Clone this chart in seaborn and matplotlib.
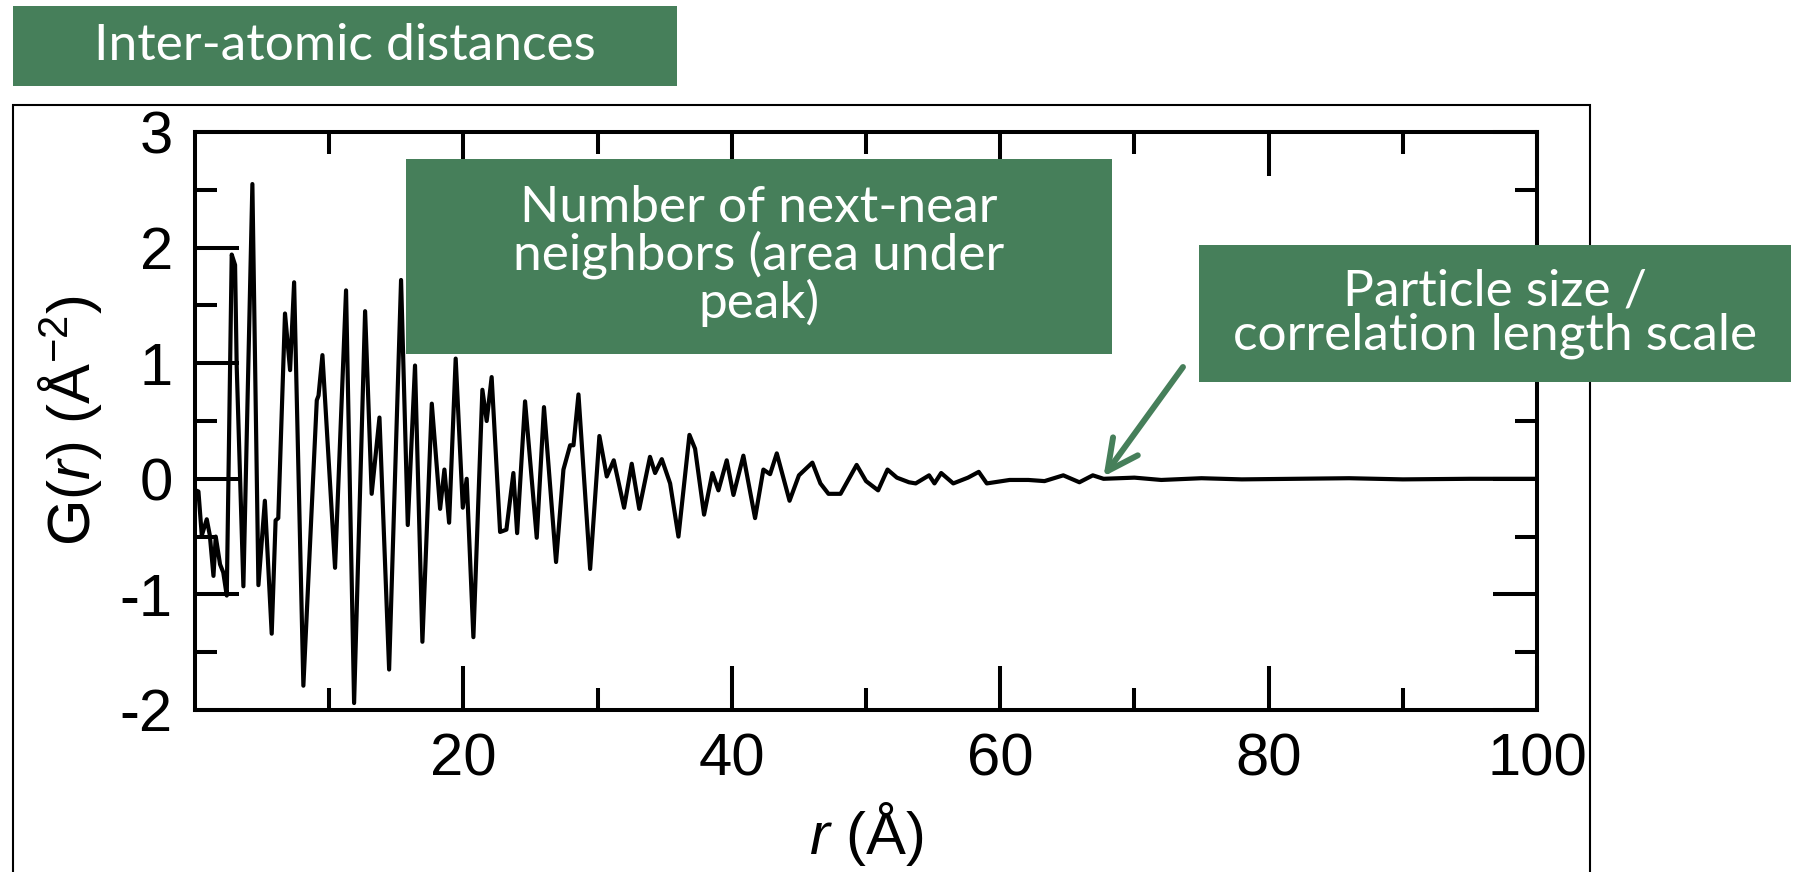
import numpy as np
import pandas as pd
import matplotlib
matplotlib.use("Agg")
import matplotlib.pyplot as plt
import matplotlib.patches as patches
from matplotlib.ticker import MultipleLocator, FixedLocator
import seaborn as sns

# values (peaks, troughs and shoulders)
r_vals = [0.05, 0.25, 0.5, 0.87, 1.1, 1.37, 1.54, 1.86, 2.1, 2.36, 2.73, 2.98, 3.1, 3.6,
          4.27, 4.72, 5.2, 5.71, 6.0, 6.2, 6.7, 7.08, 7.38, 8.07, 9.07, 9.2, 9.49, 10.43, 11.25,
          11.85, 12.67, 13.16, 13.74, 14.46, 15.35, 15.85, 16.39, 16.94, 17.64, 18.26, 18.58,
          18.93, 19.42, 19.95, 20.24, 20.74, 21.41, 21.73, 22.1, 22.73, 23.2, 23.72, 24.0, 24.59,
          25.46, 26.0, 26.9, 27.45, 27.95, 28.2, 28.57, 29.44, 30.13, 30.68, 31.2, 31.97, 32.54,
          33.1, 33.9, 34.28, 34.78, 35.4, 36.02, 36.84, 37.26, 37.93, 38.55, 39.0, 39.62, 40.12,
          40.86, 41.73, 42.35, 42.85, 43.35, 44.3, 45.0, 46.0, 46.6, 47.2, 48.1, 49.3, 50.0, 50.9,
          51.6, 52.3, 53.2, 53.7, 54.7, 55.1, 55.6, 56.5, 57.6, 58.4, 59.0, 60.7, 62.1, 63.3,
          64.7, 65.9, 66.9, 67.7, 70, 72, 75, 78, 82, 86, 90, 95, 100]
g_vals = [-0.10, -0.11, -0.49, -0.35, -0.49, -0.84, -0.50, -0.74, -0.81, -1.01, 1.94, 1.85,
          0.98, -0.93, 2.55, -0.92, -0.19, -1.34, -0.36, -0.34, 1.43, 0.94, 1.70, -1.79, 0.68,
          0.72, 1.07, -0.77, 1.63, -1.94, 1.45, -0.13, 0.53, -1.65, 1.72, -0.40, 0.98, -1.41, 0.65,
          -0.26, 0.08, -0.38, 1.04, -0.25, 0.00, -1.37, 0.77, 0.50, 0.88, -0.46, -0.44, 0.05,
          -0.47, 0.67, -0.51, 0.62, -0.72, 0.08, 0.29, 0.29, 0.73, -0.78, 0.37, 0.02, 0.16, -0.25,
          0.13, -0.26, 0.19, 0.05, 0.17, -0.04, -0.50, 0.38, 0.26, -0.31, 0.05, -0.10, 0.16,
          -0.14, 0.20, -0.34, 0.08, 0.04, 0.22, -0.19, 0.03, 0.14, -0.04, -0.13, -0.13, 0.12,
          -0.02, -0.10, 0.08, 0.01, -0.03, -0.04, 0.03, -0.04, 0.05, -0.04, 0.01, 0.06, -0.04,
          -0.01, -0.01, -0.02, 0.03, -0.03, 0.03, 0.00, 0.01, -0.01, 0.005, -0.005, 0.0, 0.005,
          -0.005, 0.0, 0.0]

x_ticks = [20, 40, 60, 80, 100]
x_minor = [10, 30, 50, 70, 90]
y_ticks = [-2, -1, 0, 1, 2, 3]

title_text = "Inter-atomic distances"
box1_text = "Number of next-near\nneighbors (area under\npeak)"
box2_text = "Particle size /\ncorrelation length scale"

green = "#467f5a"

df = pd.DataFrame({"r": r_vals, "G": g_vals})

sns.set_style("ticks")
plt.rcParams["font.family"] = ["Liberation Sans", "DejaVu Sans"]
plt.rcParams["mathtext.fontset"] = "custom"
plt.rcParams["mathtext.rm"] = "Liberation Sans"
plt.rcParams["mathtext.it"] = "Liberation Sans:italic"
plt.rcParams["axes.unicode_minus"] = False
plt.rcParams["text.color"] = "black"
plt.rcParams["axes.labelcolor"] = "black"

fig = plt.figure(figsize=(18.08, 8.72), dpi=100)
ax = fig.add_axes([0.1079, 0.1858, 0.7422, 0.6628])

sns.lineplot(data=df, x="r", y="G", ax=ax, color="black", linewidth=3.0)
for l in ax.lines:
    l.set_solid_joinstyle("round")

ax.set_xlim(0, 100)
ax.set_ylim(-2, 3)
ax.xaxis.set_major_locator(FixedLocator(x_ticks))
ax.xaxis.set_minor_locator(FixedLocator(x_minor))
ax.yaxis.set_major_locator(FixedLocator(y_ticks))
ax.yaxis.set_minor_locator(MultipleLocator(0.5))
ax.set_xticklabels([str(t) for t in x_ticks])
ax.set_yticklabels([str(t) for t in y_ticks])

ax.tick_params(which="both", direction="in", top=True, right=True, width=2.9,
               color="black", labelcolor="black")
ax.tick_params(which="major", length=32, pad=16, labelsize=43)
ax.tick_params(which="minor", length=16)
for s in ax.spines.values():
    s.set_linewidth(2.9)
    s.set_color("black")

ax.set_xlabel("$r$ (Å)", fontsize=43)
ax.set_ylabel("G($r$) (Å$^{-2}$)", fontsize=43)
ax.xaxis.set_label_coords(0.5, -0.155)
ax.yaxis.set_label_coords(-0.068, 0.5)

# outer frame of the slide picture
fig.patches.append(patches.Rectangle((0.0072, -0.02), 0.8722, 0.8996, transform=fig.transFigure,
                                     fill=False, edgecolor="black", linewidth=1.5, zorder=0))

box_font = dict(family=["Lato", "DejaVu Sans"], fontweight="normal", color="white",
                ha="center", va="center")

# title box
fig.patches.append(patches.Rectangle((0.0072, 0.9014), 0.3673, 0.0917, transform=fig.transFigure,
                                     facecolor=green, edgecolor="none", zorder=5))
fig.text(0.1908, 0.9472, title_text, fontsize=37, zorder=6, **box_font)

# annotation boxes
fig.patches.append(patches.Rectangle((0.2246, 0.594), 0.3905, 0.2236, transform=fig.transFigure,
                                     facecolor=green, edgecolor="none", zorder=5))
fig.text(0.4198, 0.7064, box1_text, fontsize=37, linespacing=1.0, zorder=6, **box_font)

fig.patches.append(patches.Rectangle((0.6632, 0.5619), 0.3274, 0.1571, transform=fig.transFigure,
                                     facecolor=green, edgecolor="none", zorder=5))
fig.text(0.8269, 0.6405, box2_text, fontsize=37, linespacing=0.95, zorder=6, **box_font)

ax.annotate("", xy=(67.7, 0.02), xycoords="data", xytext=(0.6543, 0.5791),
            textcoords="figure fraction",
            arrowprops=dict(arrowstyle="->, head_length=1.1, head_width=0.55", color=green,
                            lw=4.3, mutation_scale=20, shrinkA=0, shrinkB=0),
            annotation_clip=False, zorder=7)

fig.savefig("out.png", dpi=100)
